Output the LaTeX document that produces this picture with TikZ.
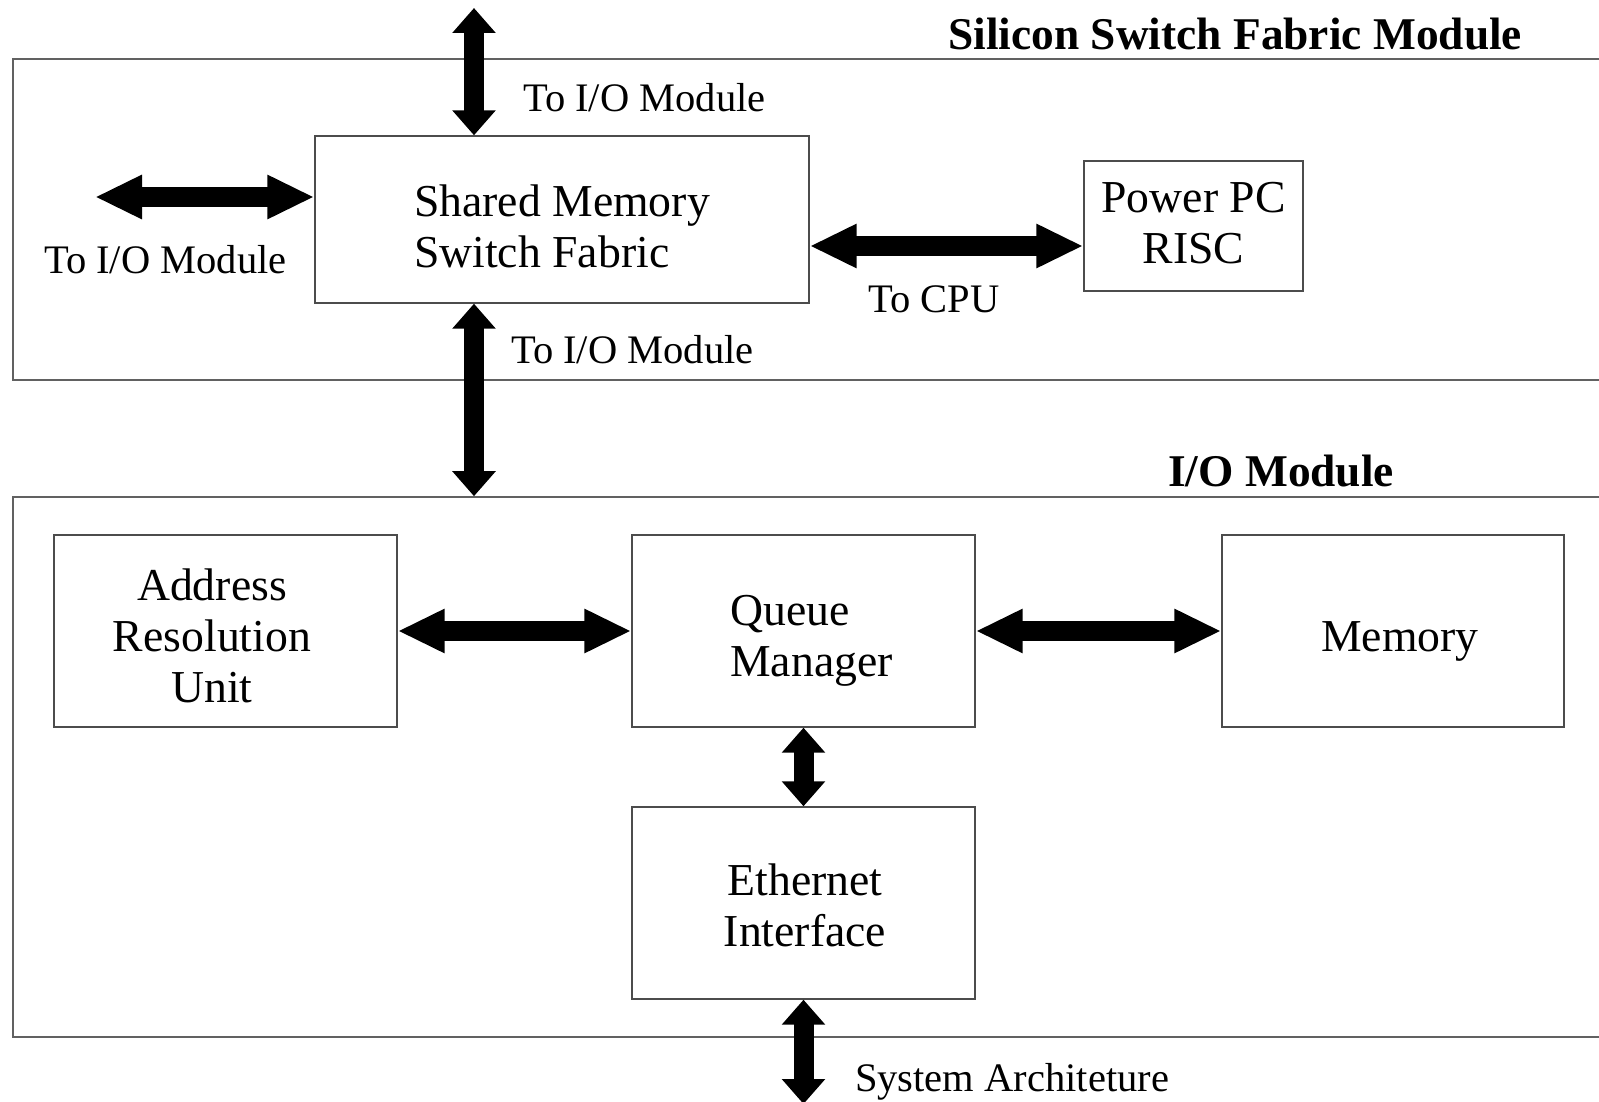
\documentclass[tikz,border=0pt]{standalone}
\usepackage{fontspec}
\setmainfont{Liberation Serif}
\usetikzlibrary{arrows.meta}
\begin{document}
\begin{tikzpicture}[x=1pt,y=-1pt,
  frame/.style={draw=black!62, line width=1.6pt, rectangle, inner sep=0pt},
  blk/.style={draw=black!70, line width=1.4pt, rectangle, inner sep=0pt},
  btxt/.style={inner sep=0pt, align=center, font=\fontsize{45.7}{51}\selectfont},
  lbl/.style={inner sep=0pt, anchor=west, font=\fontsize{40.5}{45}\selectfont},
  ttl/.style={inner sep=0pt, anchor=west, font=\fontsize{45.4}{50}\selectfont\bfseries},
  harr/.style={line width=20pt, {Triangle[length=47pt,width=41pt]}-{Triangle[length=47pt,width=41pt]}},
  varr/.style={line width=20pt, {Triangle[length=25pt,width=42pt]}-{Triangle[length=25pt,width=42pt]}}
]
\useasboundingbox (0,0) rectangle (1599,1102);
\fill[white] (0,0) rectangle (1599,1102);
\clip (0,0) rectangle (1599,1102);

% outer modules
\node[frame, minimum width=1627pt, minimum height=321pt] (sfm) at (826.5,219.5) {};
\node[frame, minimum width=1627pt, minimum height=540pt] (iom) at (826.5,767) {};

% blocks
\node[blk, minimum width=494pt, minimum height=167pt] (smf) at (562,219.5) {};
\node[btxt, align=left] (smft) at (562,226) {Shared Memory\\Switch Fabric};
\node[blk, minimum width=219pt, minimum height=130pt] (ppc) at (1193.5,226) {};
\node[btxt] (ppct) at (1193.5,223) {Power PC\\RISC};
\node[blk, minimum width=343pt, minimum height=192pt] (aru) at (225.5,631) {};
\node[btxt] (arut) at (212,636) {Address\\Resolution\\Unit};
\node[blk, minimum width=343pt, minimum height=192pt] (qm) at (803.5,631) {};
\node[btxt, align=left] (qmt) at (811.5,641) {Queue\\Manager};
\node[blk, minimum width=342pt, minimum height=192pt] (mem) at (1393,631) {};
\node[btxt] (memt) at (1400,641) {Memory};
\node[blk, minimum width=343pt, minimum height=192pt] (eth) at (803.5,903) {};
\node[btxt] (etht) at (805,905) {Ethernet\\Interface};

% free ends
\coordinate (topend) at (474,8);
\coordinate (lend) at (95,197);
\coordinate (cpuy) at (0,246);
\coordinate (sysend) at (803.5,1104);

% connectors
\draw[varr] (topend) -- (topend |- smf.north);
\draw[harr] (lend) -- (smf.west |- lend);
\draw[harr] (smf.east |- cpuy) -- (ppc.west |- cpuy);
\draw[varr] (topend |- smf.south) -- (topend |- iom.north);
\draw[harr] (aru.east) -- (qm.west);
\draw[harr] (qm.east) -- (mem.west);
\draw[varr] (qm.south) -- (eth.north);
\draw[varr] (eth.south) -- (sysend);

% labels
\node[ttl] (t1) at (948,34) {Silicon Switch Fabric Module};
\node[ttl] (t2) at (1168,471) {I/O Module};
\node[lbl] (l1) at (523,98) {To I/O Module};
\node[lbl] (l2) at (44,260) {To I/O Module};
\node[lbl] (l3) at (868,299) {To CPU};
\node[lbl] (l4) at (511,350) {To I/O Module};
\node[lbl] (l5) at (855,1082) {System Architeture};
\end{tikzpicture}
\end{document}
